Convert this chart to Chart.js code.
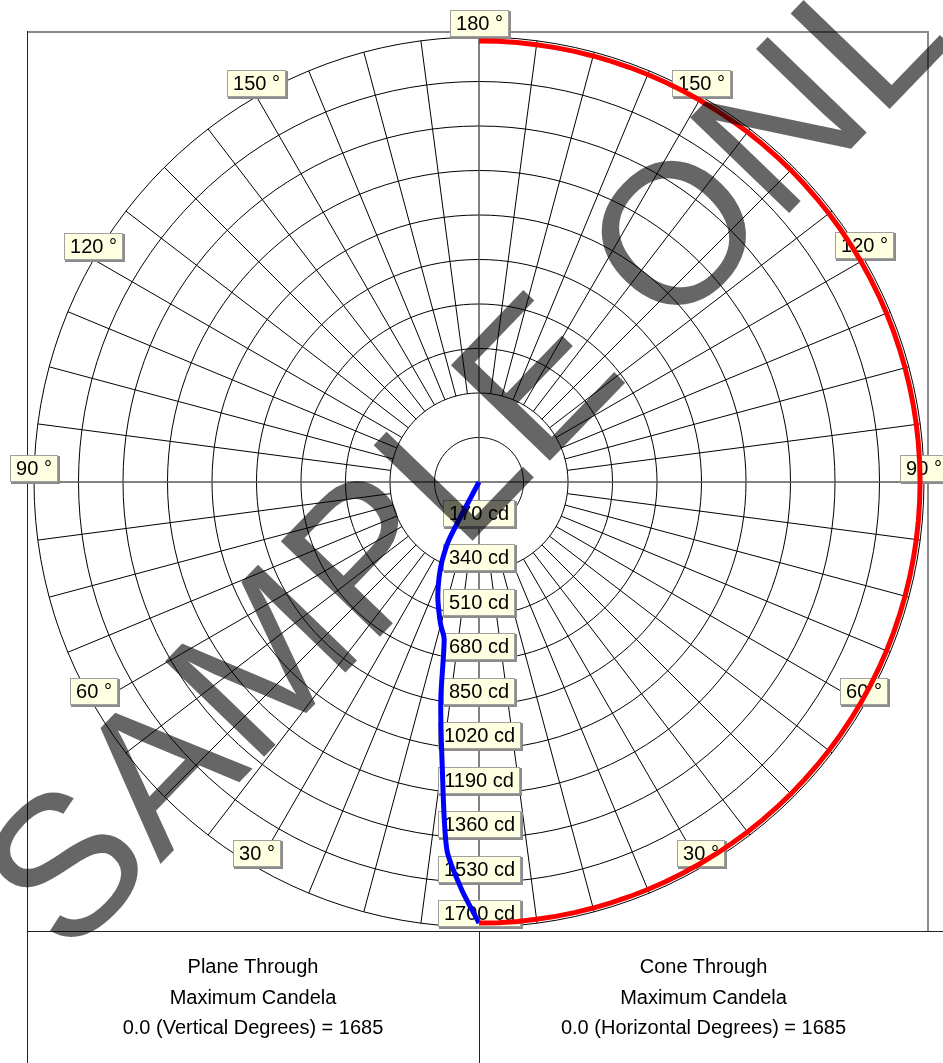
<!DOCTYPE html>
<html>
<head>
<meta charset="utf-8">
<title>Candela plot</title>
<script src="https://cdn.jsdelivr.net/npm/chart.js@4/dist/chart.umd.min.js"></script>
<style>
    body { margin: 0; background: #fff; }
    #wrap { position: relative; width: 943px; height: 1063px; overflow: hidden; background: #fff; font-family: "Liberation Sans", Arial, sans-serif; }
    .line { position: absolute; }
    #grafico { position: absolute; left: 0; top: 0; }
    .cell { position: absolute; top: 951px; text-align: center; font-size: 20px; line-height: 30.5px; color: #000; }
    #marca { position: absolute; left: 503px; top: 410px; transform: translate(-50%, -50%) rotate(-46deg);
             font-size: 200px; line-height: 1; white-space: nowrap; color: rgba(0, 0, 0, 0.6); }
</style>
</head>
<body>
<div id="wrap">
    <div class="line" style="left:27px;top:31px;width:901px;height:2px;background:#8a8a8a"></div>
    <div class="line" style="left:927px;top:31px;width:2px;height:900px;background:#8a8a8a"></div>
    <div class="line" style="left:27px;top:31px;width:1px;height:1032px;background:#222"></div>
    <div class="line" style="left:27px;top:931px;width:916px;height:1px;background:#222"></div>
    <div class="line" style="left:479px;top:931px;width:1px;height:132px;background:#222"></div>
    <canvas id="grafico" width="943" height="1063"></canvas>
    <div class="cell" style="left:27px;width:452px">Plane Through<br>Maximum Candela<br>0.0 (Vertical Degrees) = 1685</div>
    <div class="cell" style="left:479px;width:449px">Cone Through<br>Maximum Candela<br>0.0 (Horizontal Degrees) = 1685</div>
    <div id="marca">SAMPLE ONLY</div>
</div>
<script>
// polar categories: one every 2.5 degrees, clockwise from the nadir
var angleStep = 2.5;
// rings and angle tags
var candelaTicks = [170, 340, 510, 680, 850, 1020, 1190, 1360, 1530, 1700];
var angleTicks = [30, 60, 90, 120, 150];

// vertical plane through max candela (left half, degrees from nadir)
var planeAngles = [0, 2.5, 5, 7.5, 10, 12.5, 15, 17.5, 20, 22.5, 25, 27.5, 30];
var planeCandela = [1685, 1555, 1410, 1080, 840, 615, 565, 512, 460, 400, 335, 245, 0];

// cone through max candela (right half, horizontal degrees 0..180)
var coneAngles = [
    0, 2.5, 5, 7.5, 10, 12.5, 15, 17.5, 20, 22.5, 25, 27.5, 30, 32.5, 35, 37.5, 40, 42.5, 45, 47.5,
    50, 52.5, 55, 57.5, 60, 62.5, 65, 67.5, 70, 72.5, 75, 77.5, 80, 82.5, 85, 87.5, 90, 92.5, 95, 97.5,
    100, 102.5, 105, 107.5, 110, 112.5, 115, 117.5, 120, 122.5, 125, 127.5, 130, 132.5, 135, 137.5,
    140, 142.5, 145, 147.5, 150, 152.5, 155, 157.5, 160, 162.5, 165, 167.5, 170, 172.5, 175, 177.5, 180
];
var coneCandela = [
    1685, 1685, 1685, 1685, 1685, 1685, 1685, 1685, 1685, 1685, 1685, 1685, 1685, 1685, 1685, 1685, 1685, 1685, 1685, 1685,
    1685, 1685, 1685, 1685, 1685, 1685, 1685, 1685, 1685, 1685, 1685, 1685, 1685, 1685, 1685, 1685, 1685, 1685, 1685, 1685,
    1685, 1685, 1685, 1685, 1685, 1685, 1685, 1685, 1685, 1685, 1685, 1685, 1685, 1685, 1685, 1685,
    1685, 1685, 1685, 1685, 1685, 1685, 1685, 1685, 1685, 1685, 1685, 1685, 1685, 1685, 1685, 1685, 1685
];

(function (window, document) {
    'use strict';

    var nLabels = 360 / angleStep;
    var quarter = nLabels / 4;
    var spokeEvery = 3; // 7.5 graus

    var labels = [];
    for (var i = 0; i < nLabels; i++) {
        labels.push(i * angleStep);
    }

    var planeData = labels.map(function () { return null; });
    planeAngles.forEach(function (a, k) {
        planeData[Math.round(a / angleStep)] = planeCandela[k];
    });

    var coneData = labels.map(function () { return null; });
    coneAngles.forEach(function (a, k) {
        coneData[(nLabels - Math.round(a / angleStep)) % nLabels] = coneCandela[k];
    });

    function drawTag(ctx, text, x, yBottom) {
        ctx.font = '20px "Liberation Sans", Arial, sans-serif';
        var w = Math.round(ctx.measureText(text).width + 12);
        var h = 27;
        var left = Math.round(x - w / 2);
        var top = Math.round(yBottom - h);
        ctx.fillStyle = '#8c8c8c';
        ctx.fillRect(left + 1, top + 1, w + 1, h + 1);
        ctx.fillStyle = '#ffffe1';
        ctx.fillRect(left, top, w, h);
        ctx.strokeStyle = '#a0a0a0';
        ctx.lineWidth = 1;
        ctx.strokeRect(left + 0.5, top + 0.5, w - 1, h - 1);
        ctx.fillStyle = '#000';
        ctx.textAlign = 'center';
        ctx.textBaseline = 'middle';
        ctx.fillText(text, left + w / 2, top + h / 2 + 1);
    }

    // raios a partir do segundo anel, eixos e etiquetas
    var polarDecor = {
        id: 'polarDecor',
        beforeDatasetsDraw: function (chart) {
            var r = chart.scales.r;
            var ctx = chart.ctx;
            var outer = r.drawingArea;
            var inner = r.getDistanceFromCenterForValue(candelaTicks[1]);
            var a, b;

            ctx.save();
            ctx.strokeStyle = '#000';
            ctx.lineWidth = 1;
            ctx.beginPath();
            for (var i = 0; i < nLabels; i += spokeEvery) {
                if (i % quarter === 0) continue;
                a = r.getPointPosition(i, inner);
                b = r.getPointPosition(i, outer);
                ctx.moveTo(a.x, a.y);
                ctx.lineTo(b.x, b.y);
            }
            ctx.stroke();

            ctx.strokeStyle = '#5a5a5a';
            ctx.lineWidth = 1.5;
            ctx.beginPath();
            [0, quarter].forEach(function (idx) {
                a = r.getPointPosition(idx, outer);
                b = r.getPointPosition(idx + nLabels / 2, outer);
                ctx.moveTo(a.x, a.y);
                ctx.lineTo(b.x, b.y);
            });
            ctx.stroke();

            angleTicks.forEach(function (deg) {
                var left = r.getPointPosition(Math.round(deg / angleStep), outer);
                var right = r.getPointPosition(nLabels - Math.round(deg / angleStep), outer);
                drawTag(ctx, deg + ' \u00b0', left.x, left.y);
                drawTag(ctx, deg + ' \u00b0', right.x, right.y);
            });
            var top = r.getPointPosition(nLabels / 2, outer);
            drawTag(ctx, '180 \u00b0', top.x, top.y);

            candelaTicks.forEach(function (v) {
                var p = r.getPointPosition(0, r.getDistanceFromCenterForValue(v));
                drawTag(ctx, v + ' cd', p.x, p.y);
            });
            ctx.restore();
        }
    };

    var $grafico = document.getElementById('grafico');

    new Chart($grafico, {
        type: 'radar',
        data: {
            labels: labels,
            datasets: [{
                label: 'Cone Through Maximum Candela',
                data: coneData,
                borderColor: '#ff0000',
                borderWidth: 5,
                pointRadius: 0,
                fill: false,
                tension: 0
            }, {
                label: 'Plane Through Maximum Candela',
                data: planeData,
                borderColor: '#0000ff',
                borderWidth: 5,
                pointRadius: 0,
                fill: false,
                tension: 0.25
            }]
        },
        options: {
            responsive: false,
            animation: false,
            devicePixelRatio: 1,
            layout: {
                padding: { left: 34, top: 37, right: 19, bottom: 136 }
            },
            plugins: {
                legend: { display: false },
                tooltip: { enabled: false }
            },
            scales: {
                r: {
                    min: 0,
                    max: 1700,
                    startAngle: 180,
                    ticks: { display: false, stepSize: 170 },
                    pointLabels: { display: false },
                    angleLines: { display: false },
                    grid: { color: '#000', lineWidth: 1 }
                }
            }
        },
        plugins: [polarDecor]
    });
})(window, document);
</script>
</body>
</html>
